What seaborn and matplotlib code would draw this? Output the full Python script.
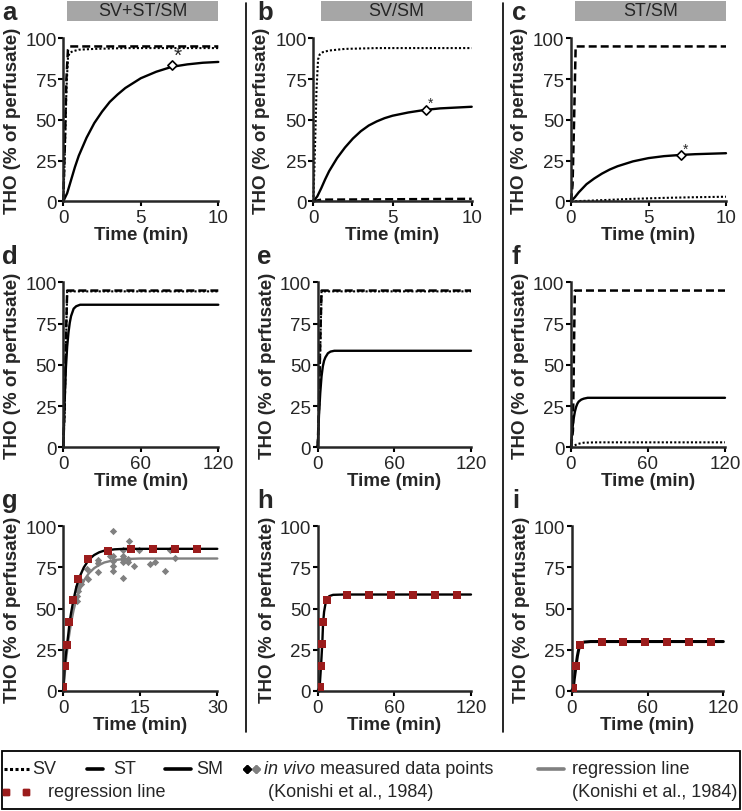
import matplotlib
matplotlib.use("Agg")
import matplotlib.pyplot as plt
from matplotlib.lines import Line2D
from matplotlib.patches import Rectangle
import seaborn as sns

W, H = 742, 812

# ---------------------------------------------------------------- data
# row 1 (0-10 min)
A_SV_T = [0, 0.1, 0.2, 0.3, 0.4, 0.6, 1, 2, 4, 10]
A_SV_Y = [0, 30, 68, 88, 91, 92, 93, 93.5, 94, 94]
A_ST_T = [0, 0.1, 0.2, 0.3, 0.4, 10]
A_ST_Y = [0, 35, 75, 93, 95, 95]
A_SM_T = [0, 0.25, 0.5, 0.75, 1, 1.5, 2, 2.5, 3, 3.5, 4, 4.5, 5, 6, 7, 8, 9, 10]
A_SM_Y = [0, 5, 13, 21, 28, 39, 48, 55, 61, 65.5, 69.5, 72.5, 75.5, 79.5, 82.5, 84, 85, 85.5]
A_MEAS = (7.0, 83.5)

B_SV_T = [0, 0.1, 0.2, 0.3, 0.4, 0.6, 1, 2, 4, 10]
B_SV_Y = [0, 30, 68, 87, 90, 91.5, 92.5, 93.5, 94, 94]
B_ST_T = [0, 0.5, 10]
B_ST_Y = [0, 1, 1.5]
B_SM_T = [0, 0.25, 0.5, 0.75, 1, 1.5, 2, 2.5, 3, 3.5, 4, 4.5, 5, 6, 7, 8, 9, 10]
B_SM_Y = [0, 3, 8, 13.5, 18.5, 26.5, 33, 38.5, 43, 46.5, 49, 51, 52.5, 54.5, 56, 57, 57.5, 58]
B_MEAS = (7.1, 56)

C_SV_T = [0, 1, 2, 4, 6, 8, 10]
C_SV_Y = [0, 0.3, 0.7, 1.5, 2.1, 2.5, 2.8]
C_ST_T = [0, 0.1, 0.2, 0.3, 10]
C_ST_Y = [0, 10, 50, 95, 95]
C_SM_T = [0, 0.25, 0.5, 0.75, 1, 1.5, 2, 2.5, 3, 3.5, 4, 5, 6, 7, 8, 9, 10]
C_SM_Y = [0, 2.5, 5.5, 8, 10.5, 14, 17, 19.5, 21.5, 23, 24.5, 26.5, 27.7, 28.4, 28.9, 29.2, 29.5]
C_MEAS = (7.1, 28.2)

# row 2 (0-120 min)
D_SV_T = [0, 1, 2, 3, 120]
D_SV_Y = [0, 20, 60, 94.5, 94.5]
D_ST_T = [0, 1, 2, 3, 120]
D_ST_Y = [0, 25, 65, 95, 95]
D_SM_T = [0, 1, 2, 3, 4, 5, 6, 8, 10, 13, 120]
D_SM_Y = [0, 28, 48, 61, 69.5, 75.5, 79.5, 84, 85.5, 86.4, 86.4]

E_SV_T = [0, 1, 2, 3, 120]
E_SV_Y = [0, 20, 60, 94.5, 94.5]
E_ST_T = [0, 1, 2, 3, 120]
E_ST_Y = [0, 25, 65, 95, 95]
E_SM_T = [0, 1, 2, 3, 4, 5, 6, 8, 10, 13, 120]
E_SM_Y = [0, 19.5, 33, 43, 49, 52.5, 54.5, 57, 58, 58.5, 58.5]

F_SV_T = [0, 5, 10, 20, 120]
F_SV_Y = [0, 2, 2.8, 3, 3]
F_ST_T = [0, 1.5, 2.5, 3, 120]
F_ST_Y = [0, 10, 70, 95, 95]
F_SM_T = [0, 1, 2, 3, 4, 5, 6, 8, 10, 13, 120]
F_SM_Y = [0, 10.5, 17, 21.5, 24.5, 26.5, 27.7, 28.9, 29.5, 30, 30]

# row 3 (regression)
G_SM_T = [0, 0.25, 0.5, 0.75, 1, 1.2, 1.5, 2, 2.5, 3, 4, 5, 6, 7, 8, 10, 12, 30]
G_SM_Y = [0, 14, 22, 28.5, 35, 41, 47, 55.5, 62.5, 68, 75, 79.8, 82.5, 84.2, 85.2, 86, 86.3, 86.3]
G_REG_T = [0, 0.5, 1, 1.5, 2, 2.5, 3, 4, 5, 6, 7, 8, 10, 12, 15, 30]
G_REG_Y = [0, 18, 31, 41, 49, 55, 60, 67, 71.5, 74.5, 76.5, 78, 79.5, 80.1, 80.4, 80.4]
G_SQ_T = [0, 0.25, 0.75, 1.2, 1.95, 2.9, 4.9, 8.8, 13.1, 17.4, 21.7, 26]
G_SQ_Y = [2, 15, 28, 41.5, 55, 68, 80, 85.2, 86, 86, 86, 86]
G_VIVO_T = [9.75, 12.8, 11.7, 14.75, 20.8, 6.8, 9.0, 9.75, 9.75, 9.75, 9.75, 11.7,
            11.7, 11.7, 11.7, 12.7, 12.7, 13.8, 16.8, 17.9, 19.8, 21.8, 6.8, 4.9,
            4.7, 6.8, 3.4, 2.9, 2.9, 2.6, 2.6, 3.5]
G_VIVO_Y = [97.3, 91.2, 85.8, 85.8, 85.8, 79.7, 81.7, 82.1, 79.1, 76.0, 73.0, 82.1,
            80.1, 78.1, 68.4, 80.1, 78.5, 76.0, 77.1, 78.1, 72.6, 80.5, 72.0, 67.9,
            74.0, 77.9, 66.9, 63.9, 60.8, 57.8, 54.7, 65.0]

H_SM_T = [0, 1.5, 2.6, 3.6, 4.2, 5, 6, 7, 9, 12, 20, 120]
H_SM_Y = [0, 2, 15, 29, 41, 48, 52.5, 55.3, 57.5, 58.3, 58.5, 58.5]
H_SQ_T = [1.6, 2.6, 3.6, 4.1, 7, 22.9, 40.1, 57.4, 74.6, 91.8, 109]
H_SQ_Y = [2, 15, 28.3, 41.6, 55.3, 58, 58, 58, 58, 58, 58]

I_SM_T = [0, 1.3, 2, 3.4, 4.5, 5.5, 6.6, 8, 10, 15, 120]
I_SM_Y = [0, 1.5, 7, 15, 21, 25, 27.6, 29, 29.6, 29.9, 29.9]
I_SQ_T = [1.3, 3.4, 6.6, 23.7, 41, 58.4, 75.8, 93.2, 110.6]
I_SQ_Y = [1.4, 14.9, 27.6, 29.8, 29.8, 29.8, 29.8, 29.8, 29.8]

TITLES = ["SV+ST/SM", "SV/SM", "ST/SM"]
LETTERS = list("abcdefghi")
Y_TICKS = [0, 25, 50, 75, 100]

RED = "#9b1c1c"
GREY = "#808080"
BOXGREY = "#a6a6a6"

DOT = (0, (1, 1))
DASH = (0, (3.2, 1.6))

sns.set_style("ticks")
plt.rcParams["font.family"] = ["Liberation Sans", "DejaVu Sans"]


def fx(px):
    return px / W


def fy(py):
    return 1 - py / H


def add_ax(fig, l, r, t, b):
    return fig.add_axes([fx(l), fy(b), fx(r - l), (b - t) / H])


def curve(ax, t, y, ls="-", lw=1.7, color="k"):
    sns.lineplot(x=t, y=y, ax=ax, color=color, linestyle=ls, linewidth=lw,
                 estimator=None, sort=False, legend=False)


def style(ax, xmax, xticks):
    ax.set_xlim(0, xmax)
    ax.set_ylim(0, 100)
    ax.set_xticks(xticks)
    ax.set_yticks(Y_TICKS)
    sns.despine(ax=ax)
    for s in ("left", "bottom"):
        ax.spines[s].set_linewidth(1.8)
    ax.tick_params(axis="both", direction="out", length=3.8, width=1.5,
                   labelsize=13.5, color="k")
    ax.tick_params(axis="x", pad=2)
    ax.tick_params(axis="y", pad=1)
    ax.set_xlabel("Time (min)", fontsize=13.5, fontweight="bold", labelpad=0)
    ax.set_ylabel("THO (% of perfusate)", fontsize=13.5, fontweight="bold")
    ax.yaxis.set_label_coords(-0.275, 0.5)


def measured(ax, pt, star_size):
    sns.scatterplot(x=[pt[0]], y=[pt[1]], ax=ax, marker="D", s=22,
                    facecolor="white", edgecolor="k", linewidth=1.2,
                    zorder=5, legend=False)
    ax.annotate("*", pt, xytext=(1.5, 0), textcoords="offset points",
                fontsize=star_size, ha="left", va="bottom")


fig = plt.figure(figsize=(W / 100, H / 100), dpi=100)

# ------------------------------------------------ layout (pixel boxes)
row_tb = [(39.3, 202.3), (283.3, 448.3), (527.3, 691.7)]
col_lr = [
    [(63.3, 218.3), (313.3, 471.7), (571, 726)],
    [(63.3, 218.3), (317.7, 471), (571, 725)],
    [(63.3, 217.3), (317.7, 471), (571.7, 723.3)],
]
axes = []
for r in range(3):
    t, b = row_tb[r]
    for c in range(3):
        l, rr = col_lr[r][c]
        axes.append(add_ax(fig, l, rr, t, b))
ax_a, ax_b, ax_c, ax_d, ax_e, ax_f, ax_g, ax_h, ax_i = axes

# row 1
curve(ax_a, A_SM_T, A_SM_Y)
curve(ax_a, A_ST_T, A_ST_Y, DASH, 1.8)
curve(ax_a, A_SV_T, A_SV_Y, DOT, 1.5)
measured(ax_a, A_MEAS, 15)

curve(ax_b, B_SM_T, B_SM_Y)
curve(ax_b, B_ST_T, B_ST_Y, DASH, 1.8)
curve(ax_b, B_SV_T, B_SV_Y, DOT, 1.5)
measured(ax_b, B_MEAS, 10)

curve(ax_c, C_SM_T, C_SM_Y)
curve(ax_c, C_ST_T, C_ST_Y, DASH, 1.8)
curve(ax_c, C_SV_T, C_SV_Y, DOT, 1.5)
measured(ax_c, C_MEAS, 10)

# row 2
for ax, sm, st, sv in [
    (ax_d, (D_SM_T, D_SM_Y), (D_ST_T, D_ST_Y), (D_SV_T, D_SV_Y)),
    (ax_e, (E_SM_T, E_SM_Y), (E_ST_T, E_ST_Y), (E_SV_T, E_SV_Y)),
    (ax_f, (F_SM_T, F_SM_Y), (F_ST_T, F_ST_Y), (F_SV_T, F_SV_Y)),
]:
    curve(ax, *sm)
    curve(ax, *st, DASH, 1.8)
    curve(ax, *sv, DOT, 1.5)

# row 3
sns.scatterplot(x=G_VIVO_T, y=G_VIVO_Y, ax=ax_g, marker="D", s=14,
                color=GREY, linewidth=0, zorder=2, legend=False)
curve(ax_g, G_REG_T, G_REG_Y, color=GREY)
curve(ax_g, G_SM_T, G_SM_Y)
for ax, tt, yy in [(ax_g, G_SQ_T, G_SQ_Y), (ax_h, H_SQ_T, H_SQ_Y),
                   (ax_i, I_SQ_T, I_SQ_Y)]:
    sns.scatterplot(x=tt, y=yy, ax=ax, marker="s", s=26, color=RED,
                    linewidth=0, zorder=4, legend=False)
curve(ax_h, H_SM_T, H_SM_Y)
curve(ax_i, I_SM_T, I_SM_Y, lw=2.2)

for i, ax in enumerate(axes):
    row = i // 3
    if row == 0:
        style(ax, 10, [0, 5, 10])
    elif i == 6:
        style(ax, 30, [0, 15, 30])
    else:
        style(ax, 120, [0, 60, 120])
    for line in ax.lines:
        line.set_clip_on(False)

# panel letters
letter_x = [2, 257, 512]
letter_y = [19.5, 264, 508]
for i, let in enumerate(LETTERS):
    fig.text(fx(letter_x[i % 3]), fy(letter_y[i // 3]), let, fontsize=18.5,
             fontweight="bold", ha="left", va="baseline")

# grey title boxes
title_lr = [(67, 218), (321, 472), (575, 726)]
for (l, r), title in zip(title_lr, TITLES):
    fig.add_artist(Rectangle((fx(l), fy(22)), fx(r - l), 20 / H,
                             transform=fig.transFigure, facecolor=BOXGREY,
                             edgecolor="none"))
    fig.text(fx((l + r) / 2), fy(12), title, fontsize=13, ha="center",
             va="center")

# column separators
for xs in (246, 503):
    fig.add_artist(Line2D([fx(xs), fx(xs)], [fy(4), fy(733)], color="k",
                          lw=1.2, transform=fig.transFigure))

# ------------------------------------------------------------- legend
fig.add_artist(Rectangle((fx(2), fy(810)), fx(738), 58 / H,
                         transform=fig.transFigure, facecolor="none",
                         edgecolor="k", lw=1.3))
r1, r2 = 770, 793


def leg_line(x0, x1, y, **kw):
    fig.add_artist(Line2D([fx(x0), fx(x1)], [fy(y), fy(y)],
                          transform=fig.transFigure, **kw))


def leg_text(x, y, s, **kw):
    return fig.text(fx(x), fy(y), s, fontsize=13, ha="left", va="center", **kw)


leg_line(4, 29, r1, color="k", lw=2.2, linestyle=(0, (1, 0.8)))
leg_text(32, r1, "SV")
leg_line(87, 103, r1, color="k", lw=2.6)
leg_text(113, r1, "ST")
leg_line(165, 191, r1, color="k", lw=2.6)
leg_text(196, r1, "SM")
leg_line(247, 247, r1, color="k", marker="D", markersize=4, lw=0)
leg_line(256, 256, r1, color=GREY, marker="D", markersize=4, lw=0)
t_iv = leg_text(264, r1, "in vivo", style="italic")
leg_line(538, 564, r1, color=GREY, lw=2.6)
leg_text(572, r1, "regression line")

leg_line(6, 6, r2, color=RED, marker="s", markersize=4.5, lw=0)
leg_line(26, 26, r2, color=RED, marker="s", markersize=4.5, lw=0)
leg_text(48, r2, "regression line")
leg_text(268, r2, "(Konishi et al., 1984)")
leg_text(572, r2, "(Konishi et al., 1984)")

fig.canvas.draw()
bb = t_iv.get_window_extent()
fig.text(bb.x1 / W, fy(r1), " measured data points", fontsize=13,
         ha="left", va="center")

fig.savefig("out.png", dpi=100)
